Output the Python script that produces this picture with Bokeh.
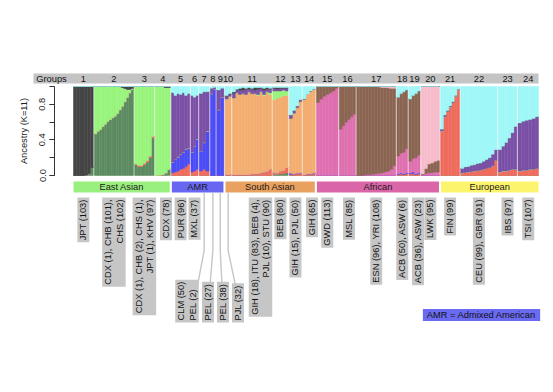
import numpy as np
from bokeh.plotting import figure
from bokeh.models import ColumnDataSource, Range1d, LinearAxis, FixedTicker, PrintfTickFormatter
from bokeh.core.properties import value
from bokeh.embed import file_html
from bokeh.resources import INLINE

# ---------------- data ----------------
group_ids = [str(i) for i in range(1, 25)]
group_sizes = [103, 204, 102, 78, 96, 37, 52, 27, 38, 32, 205, 80, 65, 65,
               113, 85, 204, 56, 59, 95, 99, 190, 97, 107]
group_labels = [
    "JPT (103)", "CDX (1), CHB (101),\nCHS (102)",
    "CDX (1), CHB (2), CHS (1),\nJPT (1), KHV (97)", "CDX (78)",
    "PUR (96)", "MXL (37)", "CLM (50)\nPEL (2)", "PEL (27)", "PEL (38)", "PJL (32)",
    "GIH (18), ITU (83), BEB (4),\nPJL (10), STU (90)", "BEB (80)",
    "GIH (15), PJL (50)", "GIH (65)", "GWD (113)", "MSL (85)",
    "ESN (96), YRI (108)", "ACB (50), ASW (6)", "ACB (36), ASW (23)", "LWK (95)",
    "FIN (99)", "CEU (99), GBR (91)", "IBS (97)", "TSI (107)"]
# component that fills the remainder of each column
group_fill = ["DK", "LG", "LG", "LG", "PU", "PU", "PU", "BL", "BL", "OR", "OR", "OR",
              "OR", "OR", "PK", "BR", "BR", "BR", "BR", "LP", "CY", "CY", "CY", "CY"]

g01 = dict(DG=[0, 0, 0, 0, 0.005, 0.02, 0.09])
g02 = dict(DG=[0.47, 0.50, 0.52, 0.55, 0.58, 0.61, 0.63, 0.65, 0.67, 0.70, 0.74, 0.78, 0.83, 0.88, 0.93, 0.97],
           DK=[0, 0, 0, 0, 0, 0, 0, 0, 0, 0, 0, 0.01, 0.02, 0.03, 0.03, 0.02])
g03 = dict(DG=[0.12, 0.10, 0.10, 0.12, 0.15, 0.20, 0.42],
           SA=[0.01, 0.015, 0.015, 0.02, 0.02, 0.02, 0.02])
g04 = dict(DG=[0, 0.005, 0.01, 0.03, 0.07], DK=[0, 0, 0, 0.01, 0.01])
g05 = dict(SA=[0.03, 0.04, 0.05, 0.07, 0.08, 0.10, 0.13],
           BL=[0.12, 0.14, 0.16, 0.17, 0.18, 0.20, 0.18],
           CY=[0.07, 0.10, 0.08, 0.09, 0.07, 0.10, 0.08])
g06 = dict(SA=[0.04, 0.05, 0.07], BL=[0.22, 0.28, 0.34], CY=[0.10, 0.12, 0.10])
g07 = dict(SA=[0.05, 0.07, 0.05], BL=[0.22, 0.30, 0.45], CY=[0.08, 0.06, 0.06])
g08 = dict(PU=[0.06, 0.02], CY=[0.02, 0.01])
g09 = dict(PU=[0.22, 0.10], CY=[0.04, 0.02])
g10 = dict(SA=[0.01, 0.01], PU=[0.03, 0.02], DK=[0.01, 0.01], CY=[0.10, 0.08])
g11 = dict(SA=[0.01, 0.01, 0.01, 0.01, 0.01, 0.01, 0.02, 0.02, 0.02, 0.03, 0.04, 0.05, 0.07],
           PU=[0.05, 0.03, 0.05, 0.04, 0.06, 0.03, 0.05, 0.04, 0.06, 0.04, 0.05, 0.03, 0.04],
           DK=[0.02, 0.01, 0.02, 0.03, 0.01, 0.02, 0.01, 0.03, 0.02, 0.01, 0.02, 0.02, 0.01],
           CY=[0.06, 0.03, 0.02, 0.01, 0.02, 0.01, 0.02, 0.01, 0.01, 0.01, 0.02, 0.01, 0.02],
           LG=[0, 0, 0, 0, 0, 0, 0, 0, 0.01, 0.01, 0.01, 0.01, 0.02])
g12 = dict(DG=[0.01, 0.01, 0.02, 0.02, 0.03], SA=[0.02, 0.02, 0.03, 0.04, 0.06],
           LG=[0.10, 0.08, 0.07, 0.06, 0.05], PU=[0.03, 0.02, 0.03, 0.02, 0.03],
           DK=[0.01, 0.02, 0.01, 0.01, 0.01], CY=[0.01, 0.01, 0.01, 0.01, 0.01])
g13 = dict(SA=[0.01, 0.01, 0.02, 0.02], BL=[0.02, 0.01, 0.01, 0.01],
           PU=[0.04, 0.03, 0.02, 0.02], CY=[0.32, 0.27, 0.22, 0.15])
g14 = dict(SA=[0.01, 0.01, 0.01, 0.02], BL=[0, 0.01, 0.01, 0.01], CY=[0.14, 0.09, 0.05, 0.03])
g15 = dict(BR=[0.18, 0.14, 0.11, 0.09, 0.07, 0.05, 0.02])
g16 = dict(PK=[0.52, 0.56, 0.60, 0.63, 0.66, 0.69])
g17 = dict(PK=[0, 0, 0.005, 0.01, 0.01, 0.015, 0.02, 0.025, 0.03, 0.04, 0.05, 0.07, 0.11],
           LP=[0, 0, 0, 0, 0, 0, 0, 0.005, 0.01, 0.01, 0.015, 0.02, 0.02])
g18 = dict(SA=[0.01, 0.02, 0.01, 0.02], BL=[0.01, 0.01, 0.01, 0.01],
           PK=[0.20, 0.22, 0.24, 0.27], CY=[0.12, 0.08, 0.06, 0.04])
g19 = dict(SA=[0.02, 0.02, 0.01, 0.02], BL=[0.01, 0.02, 0.01, 0.01],
           PK=[0.13, 0.15, 0.18, 0.20], CY=[0.14, 0.10, 0.08, 0.05])
g20 = dict(PK=[0.01, 0.02, 0.03, 0.03, 0.04, 0.04], BR=[0.01, 0.06, 0.10, 0.11, 0.12, 0.13])
g21 = dict(SA=[0.50, 0.66, 0.72, 0.77, 0.82, 0.89, 0.97], PU=[0.02, 0.02, 0.01, 0.01, 0.01, 0.01, 0])
g22 = dict(SA=[0.03, 0.035, 0.04, 0.045, 0.05, 0.055, 0.06, 0.07, 0.08, 0.09, 0.11, 0.17],
           PU=[0.05, 0.06, 0.06, 0.07, 0.07, 0.08, 0.08, 0.09, 0.10, 0.11, 0.13, 0.12])
g23 = dict(SA=[0.04, 0.05, 0.05, 0.06, 0.07, 0.07], PU=[0.25, 0.28, 0.32, 0.36, 0.41, 0.48])
g24 = dict(SA=[0.05, 0.06, 0.06, 0.07, 0.07, 0.08], PU=[0.54, 0.55, 0.56, 0.56, 0.57, 0.58])
group_parts = [g01, g02, g03, g04, g05, g06, g07, g08, g09, g10, g11, g12,
               g13, g14, g15, g16, g17, g18, g19, g20, g21, g22, g23, g24]

region_names = ["East Asian", "AMR", "South Asian", "African", "European"]
region_first = [0, 4, 9, 14, 20]
region_last = [3, 8, 13, 19, 23]
region_colors = ["#9af07e", "#6767f2", "#e9a160", "#da66a8", "#fdf46e"]

# stacking order, bottom to top
components = ["DG", "SA", "BL", "PK", "BR", "LP", "OR", "LG", "PU", "DK", "CY"]
comp_colors = dict(DG="#5d8b60", SA="#ef6b5c", BL="#4b4cf5", PK="#df70b0", BR="#8b6452",
                   LP="#f6bccb", OR="#f3ad70", LG="#98f47c", PU="#7a50a7", DK="#444444",
                   CY="#a0f7f7")

y_ticks = [0.0, 0.4, 0.8]
y_minor = [0.0, 0.2, 0.4, 0.6, 0.8, 1.0]

# ---------------- layout ----------------
FONT = "Liberation Sans"
FS = "9.3px"
GAP = 6
NG = len(group_sizes)
N = sum(group_sizes)
X0, X1 = 73.0, 538.0
scale = (X1 - X0) / (N + GAP * (NG - 1))
W, H = 553, 392


def ux(px):
    return (px - X0) / scale


def vy(py):
    return (175.0 - py) / 89.0


gstart = [sum(group_sizes[:g]) + g * GAP for g in range(NG)]
gend = [gstart[g] + group_sizes[g] for g in range(NG)]
gcenter = [(a + b) / 2 for a, b in zip(gstart, gend)]

# label boxes nudged sideways (page px) so that they do not collide
label_nudge_px = {3: 165.5, 10: 260.0, 13: 311.5, 15: 348.5, 18: 417.5}
moved = [6, 7, 8, 9]
moved_px = [186.5, 207.5, 222.5, 237.5]
leader_end_px = [197.0, 209.5, 221.5, 235.0]

cols = {c: [] for c in components}
cols["x"] = []
cols["w"] = []
for g in range(NG):
    parts = group_parts[g]
    ncol = len(next(iter(parts.values())))
    w = group_sizes[g] / ncol
    for k in range(ncol):
        cols["x"].append(gstart[g] + (k + 0.5) * w)
        cols["w"].append(w)
        tot = 0.0
        for c in components:
            v = parts[c][k] if c in parts else 0.0
            cols[c].append(v)
            tot += v
        cols[group_fill[g]][-1] += 1.0 - tot
bar_src = ColumnDataSource(cols)

p = figure(width=W, height=H, x_range=Range1d(ux(0), ux(W)),
           y_range=Range1d(vy(H), vy(0)), output_backend="svg", toolbar_location=None,
           x_axis_location=None, y_axis_location=None, min_border=0,
           outline_line_color=None, background_fill_color="white", border_fill_color="white")
p.grid.visible = False

# header band
p.quad(left=[ux(33)], right=[ux(538)], bottom=[vy(83)], top=[vy(73)],
       fill_color="#c4c4c4", line_color=None)
p.text(x=[ux(51)], y=[vy(78.3)], text=["Groups"], text_align="center", text_baseline="middle",
       text_font=value(FONT), text_font_size=FS, text_color="#111111")
p.text(x=gcenter, y=[vy(78.3)] * NG, text=group_ids, text_align="center", text_baseline="middle",
       text_font=value(FONT), text_font_size=FS, text_color="#111111")

# stacked ancestry bars
p.vbar_stack(components, x="x", width="w", source=bar_src,
             fill_color=[comp_colors[c] for c in components],
             line_color=[comp_colors[c] for c in components], line_width=0.5)

# y axis
yax = LinearAxis(fixed_location=ux(54), bounds=(0, 1),
                 ticker=FixedTicker(ticks=y_ticks, minor_ticks=y_minor),
                 formatter=PrintfTickFormatter(format="%.1f"),
                 axis_label="Ancestry (K=11)")
yax.major_label_orientation = "vertical"
yax.major_label_text_font = FONT
yax.major_label_text_font_size = FS
yax.major_label_text_color = "#222222"
yax.major_label_standoff = 4
yax.axis_label_text_font = FONT
yax.axis_label_text_font_size = FS
yax.axis_label_text_font_style = "normal"
yax.axis_label_text_color = "#222222"
yax.axis_label_standoff = 8
yax.major_tick_out = 5
yax.major_tick_in = 0
yax.minor_tick_out = 5
yax.minor_tick_in = 0
yax.axis_line_color = "#333333"
yax.major_tick_line_color = "#333333"
yax.minor_tick_line_color = "#333333"
p.add_layout(yax, "left")

# region bars
inset = 0.45 / scale
r_left = [gstart[f] + (inset if i > 0 else 0) for i, f in enumerate(region_first)]
r_right = [gend[l] - (inset if i < len(region_last) - 1 else 0) for i, l in enumerate(region_last)]
p.quad(left=r_left, right=r_right, bottom=[vy(192)] * 5, top=[vy(181)] * 5,
       fill_color=region_colors, line_color=None)
p.text(x=[(a + b) / 2 for a, b in zip(r_left, r_right)], y=[vy(186.5)] * 5, text=region_names,
       text_align="center", text_baseline="middle", text_font=value(FONT),
       text_font_size=FS, text_color="#1a1a1a")

# leader lines for the displaced labels (groups 7-10)
p.multi_line(xs=[[gcenter[g], gcenter[g], ux(px)] for g, px in zip(moved, leader_end_px)],
             ys=[[vy(192), vy(250), vy(285)] for _ in moved],
             line_color="#c6c6c6", line_width=1.4)

top_idx = [g for g in range(NG) if g not in moved]
p.text(x=[ux(label_nudge_px[g]) if g in label_nudge_px else gcenter[g] for g in top_idx],
       y=[vy(197)] * len(top_idx),
       text=[group_labels[g] for g in top_idx], angle=np.pi / 2,
       text_align="right", text_baseline="middle", text_font=value(FONT), text_font_size=FS,
       text_color="#111111", text_line_height=1.15,
       background_fill_color="#c6c6c6", padding=(2, 1))
p.text(x=[ux(px) for px in moved_px], y=[vy(322)] * len(moved),
       text=[group_labels[g] for g in moved], angle=np.pi / 2,
       text_align="left", text_baseline="middle", text_font=value(FONT), text_font_size=FS,
       text_color="#111111", text_line_height=1.15,
       background_fill_color="#c6c6c6", padding=(2, 1))

# AMR note
p.text(x=[ux(481)], y=[vy(314.5)], text=["AMR = Admixed American"], text_align="center",
       text_baseline="middle", text_font=value(FONT), text_font_size=FS, text_color="#111111",
       background_fill_color="#6a6af3", padding=(4, 1))

open("out.html", "w").write(file_html(p, INLINE))
